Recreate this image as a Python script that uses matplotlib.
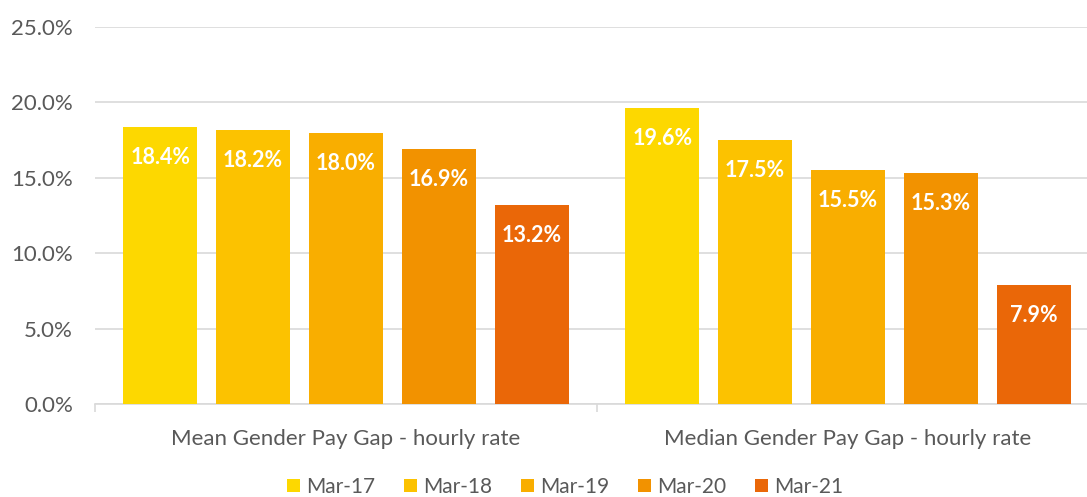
import matplotlib.pyplot as plt
import numpy as np

plt.rcParams['font.family'] = ['Lato', 'DejaVu Sans']

categories = ['Mean Gender Pay Gap - hourly rate', 'Median Gender Pay Gap - hourly rate']
series = ['Mar-17', 'Mar-18', 'Mar-19', 'Mar-20', 'Mar-21']
values = {
    'Mar-17': [18.4, 19.6],
    'Mar-18': [18.2, 17.5],
    'Mar-19': [18.0, 15.5],
    'Mar-20': [16.9, 15.3],
    'Mar-21': [13.2, 7.9],
}
colors = ['#FDD800', '#FCC200', '#F9AE00', '#F29200', '#EA6708']
yticks = [0, 5, 10, 15, 20, 25]

W, H = 1087, 497
fig = plt.figure(figsize=(W / 100, H / 100), dpi=100)
ax = fig.add_axes([95 / W, 1 - 404 / H, 1004 / W, 377 / H])

x = np.arange(len(categories))
pitch = 0.185
width = 0.147
for i, (s, c) in enumerate(zip(series, colors)):
    xs = x + (i - 2) * pitch
    bars = ax.bar(xs, values[s], width=width, color=c, label=s, zorder=3)
    for b, v in zip(bars, values[s]):
        ax.annotate(f'{v:.1f}%', (b.get_x() + b.get_width() / 2, v),
                    xytext=(0, -22), textcoords='offset points',
                    ha='center', va='center', color='white',
                    fontsize=15.5, fontweight='bold', zorder=4)

ax.set_xlim(-0.5, 1.5)
ax.set_ylim(0, 25)
ax.set_yticks(yticks)
ax.set_yticklabels([f'{t:.1f}%' for t in yticks])
ax.yaxis.grid(True, color='#D9D9D9', linewidth=1.2, zorder=0)
ax.tick_params(axis='y', length=0, labelsize=16, labelcolor='#595959', pad=16)

ax.set_xticks(x)
ax.set_xticklabels(categories)
ax.set_xticks([-0.5, 0.5, 1.5], minor=True)
ax.tick_params(axis='x', which='major', length=0, labelsize=16,
               labelcolor='#595959', pad=18)
ax.tick_params(axis='x', which='minor', length=6, color='#D9D9D9', width=1.2)

for sp in ['top', 'right', 'left']:
    ax.spines[sp].set_visible(False)
ax.spines['bottom'].set_color('#D9D9D9')
ax.spines['bottom'].set_linewidth(1.2)

handles, labels = ax.get_legend_handles_labels()
fig.legend(handles, labels, loc='center', bbox_to_anchor=(565 / W, 1 - 487 / H),
           ncol=5, frameon=False, fontsize=15, labelcolor='#595959',
           handlelength=0.6, handleheight=0.6, handletextpad=0.3,
           columnspacing=1.4)

fig.savefig('out.png', dpi=100)
